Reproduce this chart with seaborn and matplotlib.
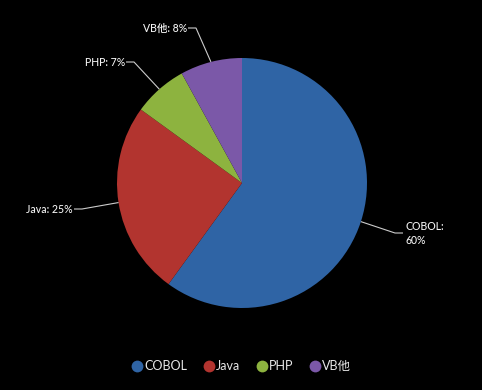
import matplotlib

matplotlib.use("Agg")
import matplotlib.pyplot as plt
import numpy as np
import seaborn as sns
from matplotlib.lines import Line2D

languages = ["COBOL", "Java", "PHP", "VB他"]
shares = [60, 25, 7, 8]
colors = ["#2f64a5", "#b2342f", "#8db33f", "#7b58a8"]

# label anchor (pixel coords of the text end nearest the pie), side
label_anchor_px = [(403, 233), (74, 209), (126, 62), (188, 28)]
label_side = ["right", "left", "left", "left"]

W, H = 482, 390
CX, CY, R = 242, 183, 125


def px(x, y):
    return (x - CX) / R, (CY - y) / R


sns.set_theme(style="dark")
plt.rcParams["font.family"] = ["Lato", "Noto Sans CJK JP", "DejaVu Sans"]

fig = plt.figure(figsize=(W / 100, H / 100), dpi=100, facecolor="black")
ax = fig.add_axes([0, 0, 1, 1])
ax.set_facecolor("black")

wedges, _ = ax.pie(
    shares,
    colors=colors,
    startangle=90,
    counterclock=False,
    radius=1,
    center=(0, 0),
    wedgeprops=dict(linewidth=0),
)
ax.set_xlim(px(0, 0)[0], px(W, 0)[0])
ax.set_ylim(px(0, H)[1], px(0, 0)[1])
ax.set_aspect("equal")
ax.axis("off")

total = sum(shares)
for w, name, val, (lx, ly), side in zip(wedges, languages, shares, label_anchor_px, label_side):
    mid = np.deg2rad((w.theta1 + w.theta2) / 2)
    ex, ey = np.cos(mid), np.sin(mid)
    ax_, ay_ = px(lx, ly)
    elbow_dx = 8 / R if side == "left" else -8 / R
    elx = ax_ + elbow_dx
    ax.plot([ex, elx, ax_], [ey, ay_, ay_], color="#cccccc", lw=0.8, solid_capstyle="butt")
    pct = f"{val / total * 100:.0f}%"
    if side == "right":
        ax.text(ax_ + 2 / R, ay_ + 12 / R, f"{name}:\n{pct}", color="#f2f2f2", fontsize=7.6,
                ha="left", va="top", linespacing=1.3, fontweight="medium")
    else:
        ax.text(ax_ - 1 / R, ay_, f"{name}: {pct}", color="#f2f2f2", fontsize=7.6,
                ha="right", va="center", fontweight="medium")

handles = [Line2D([0], [0], marker="o", linestyle="", markersize=8.5,
                  markerfacecolor=c, markeredgewidth=0) for c in colors]
leg = fig.legend(handles, languages, loc="center", bbox_to_anchor=(0.5, 1 - 366 / H),
                 ncol=4, frameon=False, fontsize=9, handletextpad=0.1,
                 columnspacing=1.2, handlelength=1.0)
for t in leg.get_texts():
    t.set_color("#e8e8e8")

fig.savefig("out.png", dpi=100, facecolor="black")
